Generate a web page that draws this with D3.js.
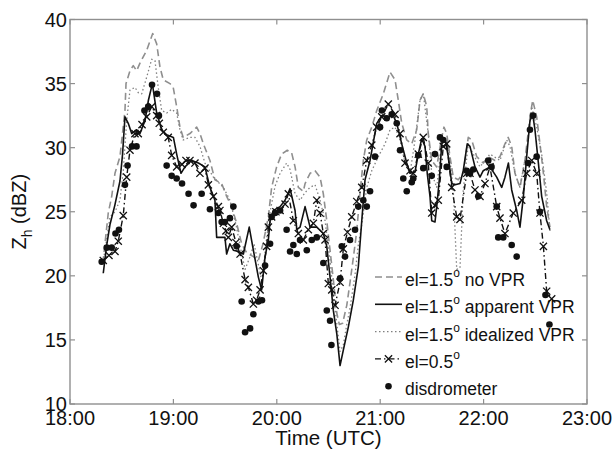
<!DOCTYPE html>
<html>
<head>
<meta charset="utf-8">
<script src="https://cdn.jsdelivr.net/npm/d3@7/dist/d3.min.js"></script>
<style>
  html, body { margin: 0; padding: 0; background: #fff; }
  svg { display: block; font-family: "Liberation Sans", Arial, sans-serif; }
</style>
</head>
<body>
<svg id="chart" width="615" height="449"></svg>
<script>
// Reflectivity time series, minutes after 18:00 UTC paired with Zh (dBZ)

const noVpr = [
  [19.1,21.0],[22.2,24.9],[24.2,26.2],[26.1,28.0],[29.0,29.3],[31.9,32.9],[32.5,35.0],[34.8,36.0],
  [36.7,36.4],[38.7,36.0],[40.6,36.6],[44.5,37.6],[48.0,38.9],[50.3,38.1],[52.2,36.3],[54.1,35.3],
  [58.0,35.0],[59.9,34.7],[61.9,33.2],[63.8,31.6],[65.7,30.8],[69.6,31.1],[73.5,31.6],[75.4,31.1],
  [77.4,30.3],[81.2,29.0],[84.1,27.5],[88.0,27.2],[90.9,26.2],[93.8,25.4],[96.7,24.1],[99.6,22.5],
  [102.5,21.8],[106.4,21.5],[109.3,21.2],[112.0,22.5],[115.1,24.6],[117.0,26.9],[119.9,28.5],[122.8,29.5],
  [126.1,29.8],[128.6,29.6],[130.6,28.5],[132.5,26.9],[135.4,26.6],[136.4,27.2],[139.3,28.0],[142.2,28.2],
  [145.1,27.7],[147.0,26.4],[149.0,24.3],[150.9,22.0],[152.8,19.7],[154.8,17.1],[156.3,16.2],[158.2,16.3],
  [160.6,17.7],[162.5,19.5],[164.4,21.4],[166.4,23.5],[168.3,26.5],[170.2,29.0],[172.2,30.6],[175.1,31.6],
  [178.0,32.9],[181.8,34.2],[185.7,35.9],[188.6,35.3],[190.5,33.7],[192.5,31.9],[195.4,30.6],[198.3,30.3],
  [201.2,31.4],[203.1,33.7],[205.0,34.2],[207.0,33.2],[207.9,31.1],[209.9,29.0],[212.8,28.5],[215.7,30.8],
  [217.0,31.6],[218.6,31.1],[220.5,29.3],[222.4,27.7],[225.3,27.5],[228.2,28.0],[231.1,30.8],[233.1,30.6],
  [236.0,29.3],[239.8,28.8],[242.7,29.3],[246.6,29.0],[249.5,29.3],[252.4,30.3],[254.3,30.8],[256.3,30.1],
  [258.2,28.0],[261.1,26.9],[264.0,29.0],[266.9,32.4],[268.5,33.7],[270.8,32.4],[272.7,30.3],[274.7,28.0],
  [276.6,25.4],[278.5,23.8]
];

const apparentVpr = [
  [19.3,20.2],[21.3,22.4],[23.2,24.0],[26.0,25.5],[29.0,27.4],[30.5,29.5],[31.9,32.4],[33.8,31.9],
  [35.8,31.1],[38.7,31.4],[40.6,31.1],[43.5,32.1],[45.5,33.7],[47.8,35.0],[50.3,32.7],[53.2,31.4],
  [56.1,31.0],[60.0,30.8],[61.9,29.5],[64.4,28.0],[66.7,28.5],[70.6,29.0],[74.5,28.8],[78.3,28.5],
  [81.2,26.9],[84.1,25.9],[85.1,23.0],[89.9,23.0],[90.9,21.7],[92.8,22.5],[94.8,22.0],[97.7,21.9],
  [100.6,21.7],[104.0,23.8],[106.4,22.0],[109.3,19.9],[111.2,18.9],[113.2,21.5],[115.1,22.8],[116.1,24.3],
  [118.0,25.1],[121.9,25.4],[124.8,25.9],[127.7,26.8],[130.6,25.1],[131.6,23.6],[133.5,23.8],[136.4,25.4],
  [139.3,23.8],[143.2,23.8],[147.0,23.3],[149.0,22.3],[150.9,19.9],[152.8,17.3],[154.8,15.5],[156.7,13.0],
  [158.6,14.2],[161.5,16.0],[164.4,18.1],[167.3,20.7],[169.3,24.3],[171.2,27.5],[174.1,29.0],[178.0,31.9],
  [180.9,32.5],[184.7,32.4],[187.6,32.5],[189.6,31.9],[192.5,30.3],[195.4,28.8],[197.3,28.0],[200.2,28.1],
  [202.1,29.5],[204.1,30.7],[206.0,30.1],[207.3,28.0],[208.9,26.2],[209.9,24.3],[211.8,24.2],[212.8,25.4],
  [214.3,27.5],[215.7,30.3],[217.6,30.7],[219.5,29.3],[221.5,27.2],[223.4,27.1],[226.3,27.2],[228.2,28.2],
  [230.5,30.3],[232.1,30.1],[235.0,28.5],[237.9,27.7],[239.8,28.2],[243.7,28.5],[247.6,27.7],[250.5,26.9],
  [252.4,27.7],[254.4,28.8],[256.3,26.7],[259.2,25.1],[261.1,23.8],[263.1,26.2],[265.0,29.3],[266.9,32.1],
  [268.5,32.6],[269.8,31.4],[271.8,28.8],[273.7,26.2],[276.6,24.3],[278.5,23.6]
];

const idealizedVpr = [
  [19.1,21.0],[20.9,22.5],[23.2,24.6],[26.1,25.0],[29.0,25.9],[30.9,28.2],[32.9,32.1],[34.8,34.5],
  [37.7,34.7],[39.6,34.3],[41.6,34.2],[44.5,35.5],[47.4,36.9],[49.3,36.8],[51.2,34.7],[53.2,32.9],
  [56.1,32.7],[59.0,33.0],[61.9,32.7],[63.8,31.4],[65.7,30.6],[69.6,30.8],[72.5,30.8],[75.4,30.1],
  [78.3,28.8],[83.2,27.7],[89.0,26.9],[92.8,25.9],[96.3,24.0],[99.2,22.0],[101.6,20.5],[104.5,21.5],
  [106.8,22.5],[109.1,21.0],[111.4,19.5],[113.7,22.5],[116.1,25.0],[119.0,27.0],[121.9,28.0],[125.7,28.8],
  [127.7,28.3],[130.6,26.4],[133.5,25.9],[136.4,26.5],[139.3,26.9],[142.2,27.1],[145.1,25.9],[148.0,24.3],
  [150.9,21.2],[152.8,18.6],[154.8,16.3],[156.7,14.1],[158.6,14.6],[160.6,16.2],[162.5,17.5],[165.4,20.1],
  [167.3,22.4],[169.3,24.0],[172.2,26.9],[175.1,28.2],[178.9,29.3],[182.8,30.3],[185.7,31.4],[188.6,31.6],
  [191.5,30.6],[194.4,28.8],[197.3,28.0],[200.2,30.6],[203.1,33.7],[205.0,34.2],[207.9,31.1],[209.9,28.0],
  [212.8,26.9],[215.7,30.3],[218.6,30.6],[220.5,29.0],[222.4,26.7],[224.4,20.5],[226.3,20.6],[228.2,26.7],
  [231.1,30.3],[234.0,29.5],[237.9,28.5],[243.7,29.5],[249.5,29.0],[253.4,30.6],[255.3,30.1],[258.2,28.0],
  [261.1,26.9],[265.0,29.8],[267.9,33.2],[270.8,31.6],[273.7,29.5],[276.6,26.5],[278.5,23.5]
];

const lowElevation = [
  [19.3,21.2],[22.6,21.6],[26.1,21.9],[28.0,22.7],[30.9,24.7],[32.9,27.7],[34.8,29.8],[37.7,31.1],
  [39.6,31.1],[41.8,31.8],[44.5,32.4],[47.4,33.2],[50.3,32.5],[51.8,31.9],[54.1,31.2],[57.0,30.8],
  [59.0,29.4],[61.9,28.5],[65.0,28.7],[67.3,29.0],[69.6,29.0],[72.5,28.8],[75.4,28.0],[78.3,28.4],
  [80.3,27.1],[83.2,26.2],[86.1,25.4],[87.0,25.1],[89.0,24.1],[90.5,23.5],[91.9,23.0],[93.8,23.8],
  [96.3,22.6],[98.7,21.7],[101.6,19.7],[103.5,19.1],[106.4,17.8],[108.3,18.1],[110.3,18.9],[112.2,20.4],
  [114.1,22.3],[115.1,23.8],[117.0,24.6],[119.5,25.0],[121.9,25.1],[124.8,25.6],[126.7,26.4],[129.6,24.3],
  [132.5,23.3],[135.4,22.8],[138.3,23.6],[141.2,24.1],[143.2,25.9],[145.1,24.9],[147.0,23.3],[148.0,22.8],
  [149.9,19.4],[151.9,18.9],[153.8,17.7],[156.7,19.5],[158.6,22.1],[161.0,23.4],[163.5,24.6],[166.4,25.8],
  [169.3,26.9],[172.2,29.0],[175.1,30.2],[178.0,31.6],[180.9,32.4],[184.7,33.4],[188.6,32.6],[191.5,31.1],
  [194.4,28.8],[197.3,28.2],[199.2,28.0],[202.1,29.5],[205.0,30.8],[207.9,28.8],[209.9,24.9],[211.8,25.5],
  [213.7,25.9],[216.6,30.1],[218.6,30.3],[221.5,26.9],[224.4,24.6],[226.3,24.4],[230.2,28.0],[232.1,28.0],
  [235.0,26.7],[237.9,26.2],[240.8,27.2],[243.7,28.5],[247.6,25.4],[249.5,24.5],[252.4,23.3],[257.2,24.9],
  [262.1,25.9],[265.0,28.0],[267.9,29.0],[270.8,28.0],[272.7,24.9],[274.7,22.3],[276.6,18.8],[279.5,18.2]
];

const disdrometer = [
  [18.4,21.1],[21.3,22.2],[24.2,22.2],[26.4,23.3],[28.4,23.6],[31.9,27.1],[33.4,28.6],[36.0,30.1],
  [38.6,30.1],[43.2,32.9],[45.4,33.2],[47.6,34.9],[50.5,34.2],[51.6,32.5],[56.1,28.6],[59.0,27.8],
  [61.9,27.6],[65.0,27.2],[68.8,26.4],[71.7,25.5],[76.4,26.4],[81.2,25.2],[86.1,24.9],[88.0,24.2],
  [89.9,24.2],[92.8,24.5],[94.8,25.4],[96.7,22.3],[99.6,18.0],[101.6,15.6],[104.5,15.9],[106.4,17.0],
  [109.3,18.0],[111.4,18.1],[113.2,20.8],[116.1,22.5],[117.0,24.6],[119.0,24.9],[121.9,25.1],[125.7,23.6],
  [127.7,21.9],[129.6,22.4],[131.6,21.7],[133.5,22.8],[137.4,22.0],[140.3,22.8],[143.2,23.0],[147.0,21.0],
  [149.0,17.3],[150.9,16.5],[151.7,14.6],[156.7,19.8],[157.7,22.3],[159.6,21.5],[162.5,22.8],[165.4,23.6],
  [167.3,25.4],[170.2,25.9],[172.2,25.4],[174.1,26.6],[177.0,29.3],[179.9,31.6],[181.0,32.9],[183.8,32.3],
  [186.7,32.6],[189.6,31.9],[191.5,29.8],[193.4,27.6],[195.4,26.6],[198.3,27.3],[199.2,27.6],[202.1,29.4],
  [205.0,28.4],[209.9,27.8],[211.8,29.5],[214.7,30.8],[216.6,30.6],[218.6,28.5],[230.2,28.2],[232.1,28.0],
  [234.0,28.3],[236.9,26.2],[242.7,29.0],[244.6,28.5],[247.6,25.4],[248.5,23.0],[251.4,23.0],[256.3,22.4],
  [259.2,21.5],[265.8,28.8],[266.9,31.4],[268.7,32.5],[270.8,29.3],[272.7,25.0],[275.9,18.5],[278.2,16.2]
];

const xTickMinutes = [0, 60, 120, 180, 240, 300];
const xTickLabels = ["18:00", "19:00", "20:00", "21:00", "22:00", "23:00"];
const yTicks = [10, 15, 20, 25, 30, 35, 40];

const legendItems = [
  { key: "noVpr",     elev: "1.5", tail: " no VPR" },
  { key: "apparent",  elev: "1.5", tail: " apparent VPR" },
  { key: "idealized", elev: "1.5", tail: " idealized VPR" },
  { key: "low",       elev: "0.5", tail: "" },
  { key: "disdro",    plain: "disdrometer" }
];

// ---- layout ----
const svg = d3.select("#chart");
const plot = { left: 70, right: 587, top: 19.5, bottom: 404 };

const x = d3.scaleLinear().domain([0, 300]).range([plot.left, plot.right]);
const y = d3.scaleLinear().domain([10, 40]).range([plot.bottom, plot.top]);

const frameColor = "#8f8f8f";

svg.append("defs").append("clipPath").attr("id", "plotClip")
  .append("rect")
  .attr("x", plot.left).attr("y", plot.top)
  .attr("width", plot.right - plot.left).attr("height", plot.bottom - plot.top);

// ---- series ----
const line = d3.line().x(d => x(d[0])).y(d => y(d[1]));
const layer = svg.append("g").attr("clip-path", "url(#plotClip)");

const styles = {
  noVpr:     { stroke: "#8f8f8f", width: 1.6, dash: "7,4" },
  apparent:  { stroke: "#111",    width: 1.6, dash: null },
  idealized: { stroke: "#808080", width: 1.3, dash: "1.5,2.5" },
  low:       { stroke: "#111",    width: 1.4, dash: "6,3,1.5,3" }
};

function drawLine(data, st) {
  layer.append("path")
    .datum(data)
    .attr("fill", "none")
    .attr("stroke", st.stroke)
    .attr("stroke-width", st.width)
    .attr("stroke-dasharray", st.dash)
    .attr("stroke-linejoin", "round")
    .attr("d", line);
}

drawLine(noVpr, styles.noVpr);
drawLine(idealizedVpr, styles.idealized);
drawLine(apparentVpr, styles.apparent);
drawLine(lowElevation, styles.low);

const xMarker = (g, cx, cy, s) => {
  g.append("path")
    .attr("d", `M${cx - s},${cy - s}L${cx + s},${cy + s}M${cx - s},${cy + s}L${cx + s},${cy - s}`)
    .attr("stroke", "#111").attr("stroke-width", 1.3).attr("fill", "none");
};
const markerLayer = layer.append("g");
lowElevation.forEach(d => xMarker(markerLayer, x(d[0]), y(d[1]), 3.6));

layer.append("g").selectAll("circle")
  .data(disdrometer)
  .join("circle")
  .attr("cx", d => x(d[0]))
  .attr("cy", d => y(d[1]))
  .attr("r", 3.3)
  .attr("fill", "#111");

// ---- frame and ticks ----
svg.append("rect")
  .attr("x", plot.left).attr("y", plot.top)
  .attr("width", plot.right - plot.left).attr("height", plot.bottom - plot.top)
  .attr("fill", "none").attr("stroke", frameColor).attr("stroke-width", 1.4);

const tickLen = 5;
const ticks = svg.append("g").attr("stroke", frameColor).attr("stroke-width", 1.2);
xTickMinutes.forEach(m => {
  ticks.append("line").attr("x1", x(m)).attr("x2", x(m)).attr("y1", plot.bottom).attr("y2", plot.bottom - tickLen);
  ticks.append("line").attr("x1", x(m)).attr("x2", x(m)).attr("y1", plot.top).attr("y2", plot.top + tickLen);
});
yTicks.forEach(v => {
  ticks.append("line").attr("x1", plot.left).attr("x2", plot.left + tickLen).attr("y1", y(v)).attr("y2", y(v));
  ticks.append("line").attr("x1", plot.right).attr("x2", plot.right - tickLen).attr("y1", y(v)).attr("y2", y(v));
});

// ---- tick labels ----
const labelFont = 20;
svg.append("g").selectAll("text")
  .data(yTicks)
  .join("text")
  .attr("x", plot.left - 3)
  .attr("y", d => y(d))
  .attr("dy", "0.35em")
  .attr("text-anchor", "end")
  .attr("font-size", labelFont)
  .attr("fill", "#111")
  .text(d => d);

svg.append("g").selectAll("text")
  .data(xTickMinutes)
  .join("text")
  .attr("x", d => x(d))
  .attr("y", 425)
  .attr("text-anchor", "middle")
  .attr("font-size", labelFont)
  .attr("fill", "#111")
  .text((d, i) => xTickLabels[i]);

// ---- axis titles ----
svg.append("text")
  .attr("x", (plot.left + plot.right) / 2)
  .attr("y", 445)
  .attr("text-anchor", "middle")
  .attr("font-size", 20.5)
  .attr("fill", "#111")
  .text("Time (UTC)");

const yTitle = svg.append("text")
  .attr("transform", `translate(26,${(plot.top + plot.bottom) / 2}) rotate(-90)`)
  .attr("text-anchor", "middle")
  .attr("font-size", 20)
  .attr("fill", "#111");
yTitle.append("tspan").text("Z");
yTitle.append("tspan").attr("font-size", 14).attr("dy", 6).text("h");
yTitle.append("tspan").attr("dy", -6).text(" (dBZ)");

// ---- legend ----
const legend = svg.append("g").attr("font-size", 17.5).attr("fill", "#111");
const legX0 = 375, legX1 = 402, legText = 405, legY0 = 277, legStep = 27.3;

legendItems.forEach((item, i) => {
  const ly = legY0 + i * legStep;
  const st = styles[item.key];
  if (st) {
    legend.append("line")
      .attr("x1", legX0).attr("x2", legX1).attr("y1", ly).attr("y2", ly)
      .attr("stroke", st.stroke).attr("stroke-width", st.width)
      .attr("stroke-dasharray", st.dash);
  }
  if (item.key === "low") xMarker(legend, (legX0 + legX1) / 2, ly, 3.6);
  if (item.key === "disdro") {
    legend.append("circle").attr("cx", (legX0 + legX1) / 2).attr("cy", ly).attr("r", 3.3).attr("fill", "#111");
  }
  const t = legend.append("text").attr("x", legText).attr("y", ly + 9);
  if (item.plain) {
    t.text(item.plain);
  } else {
    t.append("tspan").text("el=" + item.elev);
    t.append("tspan").attr("font-size", 12).attr("dy", -9).text("o");
    t.append("tspan").attr("dy", 9).text(item.tail);
  }
});
</script>
</body>
</html>
